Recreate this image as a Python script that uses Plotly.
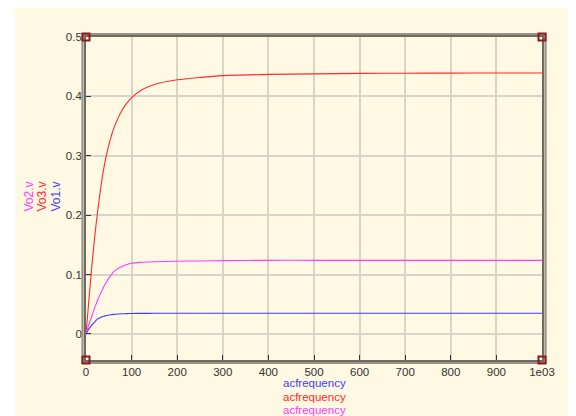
import plotly.graph_objects as go

# ---- data ----
freq = [0, 5, 10, 15, 20, 25, 30, 35, 40, 45, 50, 55, 60, 70, 80, 90, 100, 120, 150,
        200, 250, 300, 400, 500, 600, 700, 800, 900, 1000]
vo3 = [0, 0.045, 0.09, 0.132, 0.17, 0.203, 0.233, 0.26, 0.283, 0.302, 0.318, 0.332,
       0.344, 0.363, 0.378, 0.389, 0.398, 0.41, 0.42, 0.428, 0.432, 0.435, 0.437,
       0.438, 0.4387, 0.439, 0.4392, 0.4394, 0.4395]
vo2 = [0, 0.013, 0.024, 0.035, 0.046, 0.056, 0.065, 0.073, 0.081, 0.088, 0.094, 0.099,
       0.104, 0.110, 0.114, 0.117, 0.119, 0.1205, 0.1215, 0.1225, 0.123, 0.1235, 0.124,
       0.124, 0.124, 0.124, 0.124, 0.124, 0.124]
vo1 = [0, 0.007, 0.012, 0.017, 0.021, 0.025, 0.027, 0.029, 0.030, 0.031, 0.032, 0.0325,
       0.033, 0.0337, 0.034, 0.0342, 0.0345, 0.0347, 0.0348, 0.035, 0.035, 0.035, 0.035,
       0.035, 0.035, 0.035, 0.035, 0.035, 0.035]
x_ticks = [0, 100, 200, 300, 400, 500, 600, 700, 800, 900, 1000]
x_tick_text = ["0", "100", "200", "300", "400", "500", "600", "700", "800", "900", "1e03"]
y_ticks = [0, 0.1, 0.2, 0.3, 0.4, 0.5]
y_tick_text = ["0", "0.1", "0.2", "0.3", "0.4", "0.5"]
series_names = ["Vo2.v", "Vo3.v", "Vo1.v"]
series_colors = {"Vo1.v": "#3c3cff", "Vo3.v": "#ff2a2a", "Vo2.v": "#ff3cff"}

# the page adds an 8px body margin; figure coordinates = screen - 8
OFF = 8
W, H = 576, 416
L, R, T, B = 78, 42, 29, 64
PW, PH = W - L - R, H - T - B
CREAM = "#fff8e2"
FONT = "Liberation Sans, Arial, sans-serif"


def px_x(p):  # p in screen pixels
    return (p - OFF - L) / PW


def px_y(p):
    return (H - B - (p - OFF)) / PH


fig = go.Figure()
for name, ys in [("Vo1.v", vo1), ("Vo3.v", vo3), ("Vo2.v", vo2)]:
    fig.add_trace(go.Scatter(x=freq, y=ys, mode="lines", name=name,
                             line=dict(color=series_colors[name], width=1.1,
                                       shape="spline", smoothing=0.6)))

shapes = []
# white strip at the left of the cream panel
shapes.append(dict(type="rect", xref="paper", yref="paper", layer="below",
                   x0=px_x(8), x1=px_x(15), y0=px_y(430), y1=px_y(8),
                   fillcolor="white", line=dict(width=0)))
# outer frame line
shapes.append(dict(type="rect", xref="paper", yref="paper",
                   x0=px_x(82.5), x1=px_x(545.5), y0=px_y(363), y1=px_y(34),
                   line=dict(color="#979389", width=2.2)))
# corner squares
for cx, cy in [(86, 37), (542, 37), (86, 360), (542, 360)]:
    shapes.append(dict(type="rect", xref="paper", yref="paper",
                       x0=px_x(cx - 3.5), x1=px_x(cx + 3.5), y0=px_y(cy + 3.5), y1=px_y(cy - 3.5),
                       line=dict(color="#8b1a1a", width=2)))

annotations = []
# vertical series labels on the left
for name, xc in zip(series_names, [28.5, 41.5, 55.5]):
    annotations.append(dict(text=name, xref="paper", yref="paper", x=px_x(xc), y=px_y(197),
                            xanchor="center", yanchor="middle", showarrow=False, textangle=-90,
                            font=dict(family=FONT, size=12, color=series_colors[name])))
# x labels under the axis
for name, yc in zip(["Vo1.v", "Vo3.v", "Vo2.v"], [383, 396.5, 410]):
    annotations.append(dict(text="acfrequency", xref="paper", yref="paper", x=0.5, y=px_y(yc),
                            xanchor="center", yanchor="middle", showarrow=False,
                            font=dict(family=FONT, size=11.5, color=series_colors[name])))

axis_common = dict(showgrid=True, gridcolor="#d8d4c8", gridwidth=1.5,
                   showline=True, mirror=True, linecolor="#6e6b63", linewidth=1.8,
                   ticks="inside", ticklen=5, tickcolor="#333333", tickwidth=1,
                   zeroline=False, tickfont=dict(family=FONT, size=11.5, color="#333333"))

fig.update_layout(
    width=W, height=H, margin=dict(l=L, r=R, t=T, b=B),
    paper_bgcolor=CREAM, plot_bgcolor=CREAM,
    showlegend=False,
    xaxis=dict(range=[0, 1000], tickvals=x_ticks, ticktext=x_tick_text, **axis_common),
    yaxis=dict(range=[-0.0438, 0.5], tickvals=y_ticks, ticktext=y_tick_text, **axis_common),
    shapes=shapes, annotations=annotations,
)

fig.write_html("out.html")
